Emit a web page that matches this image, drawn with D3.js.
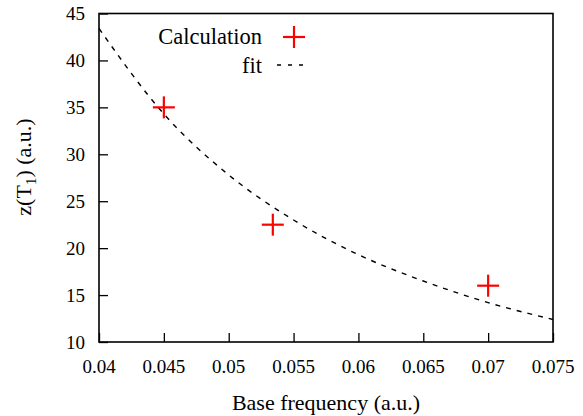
<!DOCTYPE html>
<html><head><meta charset="utf-8">
<script src="https://cdn.jsdelivr.net/npm/d3@7"></script>
</head><body style="margin:0"><svg id="c" width="583" height="416"></svg>
<script>
const xTicks = [0.04,0.045,0.05,0.055,0.06,0.065,0.07,0.075];
const yTicks = [10,15,20,25,30,35,40,45];
const calcX = [0.045,0.0534,0.07];
const calcY = [35,22.5,16];
const fitX = [0.04,0.045,0.05,0.055,0.06,0.065,0.07,0.075];
const fitY = [43.4,34.3,27.8,23.0,19.3,16.5,14.2,12.4];

const FF = "Times, Tinos, 'Nimbus Roman', 'Liberation Serif', serif";
const svg = d3.select("#c");
const L=99,R=553,T=13.5,B=342;
const x = d3.scaleLinear().domain([0.04,0.075]).range([L,R]);
const y = d3.scaleLinear().domain([10,45]).range([B,T]);

const gx = svg.append("g").attr("transform",`translate(0,${B})`);
const gy = svg.append("g").attr("transform",`translate(${L},0)`);
gx.call(d3.axisBottom(x).tickValues(xTicks).tickFormat(()=>"").tickSizeInner(-9).tickSizeOuter(0));
gy.call(d3.axisLeft(y).tickValues(yTicks).tickFormat(()=>"").tickSizeInner(-9).tickSizeOuter(0));
[gx,gy].forEach(g=>{g.select(".domain").remove();g.selectAll("text").remove();g.selectAll("line").attr("stroke","#000").attr("stroke-width",1.3);});

const txt = (xx,yy,s,anchor,t)=>svg.append("text").attr("x",xx).attr("y",yy).attr("text-anchor",anchor)
  .style("font-family",FF).style("font-size",s+"px").style("fill","#000").text(t);

xTicks.forEach(v=>txt(x(v),373,19,"middle",String(+v.toFixed(3))));
yTicks.forEach(v=>txt(L-14,y(v)+6.5,19,"end",String(v)));

svg.append("rect").attr("x",L).attr("y",T).attr("width",R-L).attr("height",B-T).attr("fill","none").attr("stroke","#000").attr("stroke-width",1.6);

const fit = fitX.map((v,i)=>[v,fitY[i]]);
svg.append("path").datum(fit).attr("fill","none").attr("stroke","#000").attr("stroke-width",1.4)
  .attr("stroke-dasharray","5,6")
  .attr("d",d3.line().x(d=>x(d[0])).y(d=>y(d[1])).curve(d3.curveMonotoneX));

const pts = calcX.map((v,i)=>[v,calcY[i]]);
const plus = (g,cx,cy)=>{g.append("line").attr("x1",cx-11).attr("x2",cx+11).attr("y1",cy).attr("y2",cy);
  g.append("line").attr("x1",cx).attr("x2",cx).attr("y1",cy-11).attr("y2",cy+11);};
const pg = svg.append("g").attr("stroke","#ff0000").attr("stroke-width",2.2);
pts.forEach(d=>plus(pg,x(d[0]),y(d[1])));

txt(262,44,22.5,"end","Calculation");
const lg = svg.append("g").attr("stroke","#ff0000").attr("stroke-width",2.2);
plus(lg,294,37);
txt(262,73,22.5,"end","fit");
svg.append("line").attr("x1",277).attr("x2",307).attr("y1",65).attr("y2",65).attr("stroke","#000").attr("stroke-width",1.4).attr("stroke-dasharray","4,7");

txt((L+R)/2,410,22,"middle","Base frequency (a.u.)");
const yt = svg.append("text").attr("transform","translate(31,167) rotate(-90)").attr("text-anchor","middle")
  .style("font-family",FF).style("font-size","22px").style("fill","#000");
yt.append("tspan").text("z(T");
yt.append("tspan").style("font-size","15px").attr("dy",5).text("1");
yt.append("tspan").attr("dy",-5).text(") (a.u.)");
</script></body></html>
